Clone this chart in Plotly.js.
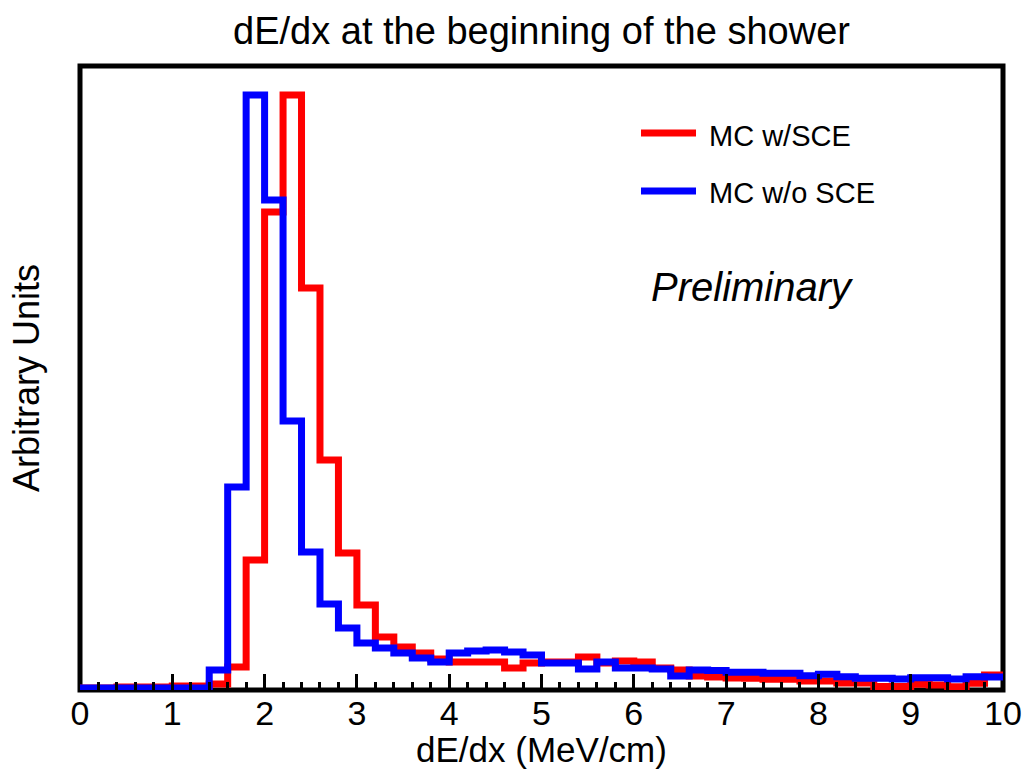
<!DOCTYPE html>
<html>
<head>
<meta charset="utf-8">
<script src="https://cdn.plot.ly/plotly-3.0.1.min.js"></script>
<style>
  html, body { margin: 0; padding: 0; background: #ffffff; }
  #chart { width: 1022px; height: 769px; }
</style>
</head>
<body>
<div id="chart"></div>
<script>
// Bin edges of the histogram (dE/dx, MeV/cm)
const binEdges = [0.0, 0.2, 0.4, 0.6, 0.8, 1.0, 1.2, 1.4, 1.6, 1.8,
                  2.0, 2.2, 2.4, 2.6, 2.8, 3.0, 3.2, 3.4, 3.6, 3.8,
                  4.0, 4.2, 4.4, 4.6, 4.8, 5.0, 5.2, 5.4, 5.6, 5.8,
                  6.0, 6.2, 6.4, 6.6, 6.8, 7.0, 7.2, 7.4, 7.6, 7.8,
                  8.0, 8.2, 8.4, 8.6, 8.8, 9.0, 9.2, 9.4, 9.6, 9.8, 10.0];

// MC with space-charge effect (arbitrary units)
const mcWithSCE = [2, 2, 3, 3, 3, 4, 4, 6, 23, 130,
                   478, 595, 402, 230, 137, 85, 53, 43, 37, 31,
                   28, 28, 28, 22, 27, 28, 28, 33, 27, 29,
                   28, 22, 20, 14, 13, 12, 11.7, 10.7, 10.7, 9,
                   9, 7, 7, 3.5, 3.5, 5.7, 5, 3.3, 6.7, 15];

// MC without space-charge effect (arbitrary units)
const mcWithoutSCE = [2, 2, 2, 2, 2, 2, 2, 20, 203, 595,
                      490, 269, 138, 86, 62, 47, 42, 37, 32, 28,
                      37, 39, 40, 38, 35, 27, 27, 21, 28, 22,
                      22, 21, 14, 20, 19.5, 17.7, 17.7, 16.7, 16.7, 14.3,
                      15.7, 13.3, 11.7, 11.7, 11, 12.3, 12.3, 11, 13.3, 13];

const seriesNames = ["MC w/SCE", "MC w/o SCE"];
const seriesColors = ["#ff0000", "#0000ff"];
const xTickVals = [0, 1, 2, 3, 4, 5, 6, 7, 8, 9, 10];
const xTickText = ["0", "1", "2", "3", "4", "5", "6", "7", "8", "9", "10"];

function stepTrace(vals, name, color) {
  return {
    type: "scatter",
    mode: "lines",
    name: name,
    x: binEdges,
    y: vals.concat([vals[vals.length - 1]]),
    line: { shape: "hv", color: color, width: 7 },
    showlegend: false,
    hoverinfo: "skip"
  };
}

const data = [
  stepTrace(mcWithSCE, seriesNames[0], seriesColors[0]),
  stepTrace(mcWithoutSCE, seriesNames[1], seriesColors[1])
];

const FONT = "Liberation Sans, Arial, Helvetica, sans-serif";

const layout = {
  width: 1022,
  height: 769,
  margin: { l: 80, r: 19, t: 66, b: 79, pad: 0 },
  paper_bgcolor: "#ffffff",
  plot_bgcolor: "#ffffff",
  font: { family: FONT, color: "#000000" },
  title: {
    text: "dE/dx at the beginning of the shower",
    font: { family: FONT, size: 38, color: "#000000" },
    x: 0.5, xref: "paper", xanchor: "center",
    y: 1 - 31 / 769, yref: "container", yanchor: "middle"
  },
  xaxis: {
    range: [0, 10],
    showgrid: false,
    zeroline: false,
    showline: false,
    tickmode: "array",
    tickvals: xTickVals,
    ticktext: xTickText,
    ticks: "inside",
    ticklen: 16,
    tickwidth: 3,
    tickcolor: "#000000",
    ticklabeloverflow: "allow",
    tickfont: { family: FONT, size: 34, color: "#000000" },
    minor: { dtick: 0.2, tick0: 0, ticks: "inside", ticklen: 8, tickwidth: 3, tickcolor: "#000000", showgrid: false },
    title: {
      text: "dE/dx (MeV/cm)",
      font: { family: FONT, size: 35, color: "#000000" },
      standoff: 0
    },
    layer: "above traces"
  },
  yaxis: {
    range: [0, 624],
    showgrid: false,
    zeroline: false,
    showline: false,
    ticks: "",
    showticklabels: false,
    title: {
      text: "Arbitrary Units",
      font: { family: FONT, size: 36, color: "#000000" },
      standoff: 28
    }
  },
  shapes: [
    { type: "rect", xref: "paper", yref: "paper", x0: 0, x1: 1, y0: 0, y1: 1,
      line: { color: "#000000", width: 5 }, fillcolor: "rgba(0,0,0,0)", layer: "below" },
    { type: "line", xref: "paper", yref: "paper", x0: 0.6078, x1: 0.6674, y0: 0.8926, y1: 0.8926,
      line: { color: seriesColors[0], width: 7 } },
    { type: "line", xref: "paper", yref: "paper", x0: 0.6078, x1: 0.6674, y0: 0.7997, y1: 0.7997,
      line: { color: seriesColors[1], width: 7 } }
  ],
  annotations: [
    { xref: "paper", yref: "paper", x: 0.6790, y: 0.8878, xanchor: "left", yanchor: "middle",
      text: seriesNames[0], showarrow: false, font: { family: FONT, size: 29, color: "#000000" } },
    { xref: "paper", yref: "paper", x: 0.6790, y: 0.7965, xanchor: "left", yanchor: "middle",
      text: seriesNames[1], showarrow: false, font: { family: FONT, size: 29, color: "#000000" } },
    { xref: "paper", yref: "paper", x: 0.729, y: 0.6458, xanchor: "center", yanchor: "middle",
      text: "<i>Preliminary</i>", showarrow: false, font: { family: FONT, size: 40, color: "#000000" } }
  ]
};

Plotly.newPlot("chart", data, layout, { displayModeBar: false, staticPlot: true });
</script>
</body>
</html>
